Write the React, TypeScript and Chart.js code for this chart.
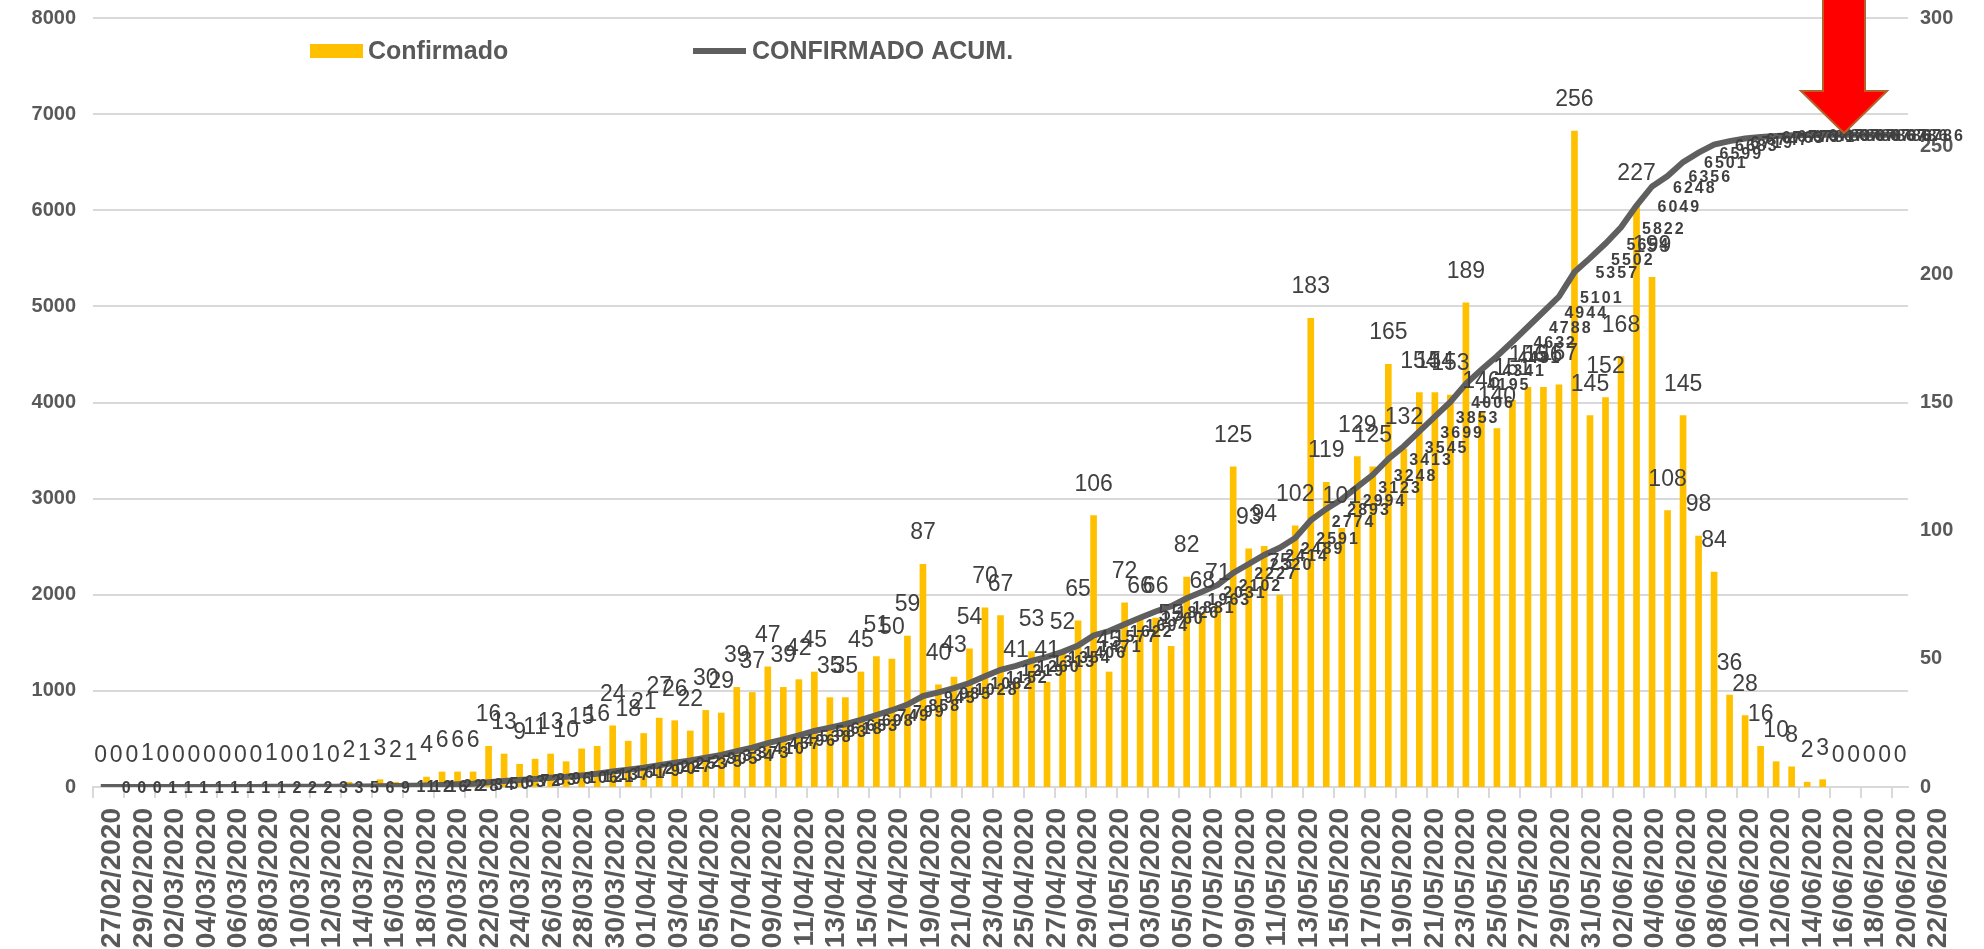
import React, { useEffect, useRef } from 'react';
import { Chart, registerables } from 'chart.js';
Chart.register(...registerables);

const FONT = "'Liberation Sans', Arial, sans-serif";

const dates: string[] = [
  '27/02/2020', '28/02/2020', '29/02/2020',
  '01/03/2020', '02/03/2020', '03/03/2020', '04/03/2020', '05/03/2020', '06/03/2020', '07/03/2020', '08/03/2020', '09/03/2020', '10/03/2020',
  '11/03/2020', '12/03/2020', '13/03/2020', '14/03/2020', '15/03/2020', '16/03/2020', '17/03/2020', '18/03/2020', '19/03/2020', '20/03/2020',
  '21/03/2020', '22/03/2020', '23/03/2020', '24/03/2020', '25/03/2020', '26/03/2020', '27/03/2020', '28/03/2020', '29/03/2020', '30/03/2020', '31/03/2020',
  '01/04/2020', '02/04/2020', '03/04/2020', '04/04/2020', '05/04/2020', '06/04/2020', '07/04/2020', '08/04/2020', '09/04/2020', '10/04/2020',
  '11/04/2020', '12/04/2020', '13/04/2020', '14/04/2020', '15/04/2020', '16/04/2020', '17/04/2020', '18/04/2020', '19/04/2020', '20/04/2020',
  '21/04/2020', '22/04/2020', '23/04/2020', '24/04/2020', '25/04/2020', '26/04/2020', '27/04/2020', '28/04/2020', '29/04/2020', '30/04/2020',
  '01/05/2020', '02/05/2020', '03/05/2020', '04/05/2020', '05/05/2020', '06/05/2020', '07/05/2020', '08/05/2020', '09/05/2020', '10/05/2020',
  '11/05/2020', '12/05/2020', '13/05/2020', '14/05/2020', '15/05/2020', '16/05/2020', '17/05/2020', '18/05/2020', '19/05/2020', '20/05/2020',
  '21/05/2020', '22/05/2020', '23/05/2020', '24/05/2020', '25/05/2020', '26/05/2020', '27/05/2020', '28/05/2020', '29/05/2020', '30/05/2020', '31/05/2020',
  '01/06/2020', '02/06/2020', '03/06/2020', '04/06/2020', '05/06/2020', '06/06/2020', '07/06/2020', '08/06/2020', '09/06/2020', '10/06/2020',
  '11/06/2020', '12/06/2020', '13/06/2020', '14/06/2020', '15/06/2020', '16/06/2020', '17/06/2020', '18/06/2020', '19/06/2020', '20/06/2020',
  '21/06/2020', '22/06/2020',
];

// Daily confirmed (bars, right axis)
const confirmado: number[] = [
  0, 0, 0, 1, 0, 0, 0, 0, 0, 0, 0, 1, 0, 0, 1, 0, 2, 1, 3, 2, 1, 4, 6, 6, 6,
  16, 13, 9, 11, 13, 10, 15, 16, 24, 18, 21, 27, 26, 22, 30, 29, 39, 37, 47, 39, 42, 45, 35, 35, 45, 51, 50, 59, 87, 40, 43, 54, 70, 67,
  41, 53, 41, 52, 65, 106, 45, 72, 66, 66, 55, 82, 68, 71, 125, 93, 94, 75, 102,
  183, 119, 101, 129, 125, 165, 132, 154, 154, 153, 189, 146, 140, 151, 156, 156, 157,
  256, 145, 152, 168, 227, 199, 108, 145, 98, 84, 36, 28, 16, 10, 8, 2, 3, 0, 0, 0, 0, 0,
];

// Cumulative confirmed (line, left axis)
const acumulado: number[] = [
  0, 0, 0, 1, 1, 1, 1, 1, 1, 1, 1, 2, 2, 2, 3, 3, 5, 6, 9, 11, 12, 16, 22, 28, 34,
  50, 63, 72, 83, 96, 106, 121, 137, 161, 179, 200, 227, 253, 275, 305, 334, 373, 410, 457, 496, 538, 583, 618, 653, 698, 749, 799, 858, 945, 985, 1028, 1082, 1152, 1219,
  1260, 1313, 1354, 1406, 1471, 1577, 1622, 1694, 1760, 1826, 1881, 1963, 2031, 2102, 2227, 2320, 2414, 2489, 2591,
  2774, 2893, 2994, 3123, 3248, 3413, 3545, 3699, 3853, 4006, 4195, 4341, 4481, 4632, 4788, 4944, 5101,
  5357, 5502, 5654, 5822, 6049, 6248, 6356, 6501, 6599, 6683, 6719, 6747, 6763, 6773, 6781, 6783, 6786, 6786, 6786, 6786, 6786, 6786,
];

const seriesNames: string[] = ['Confirmado', 'CONFIRMADO ACUM.'];

const valueLabels = {
  id: 'valueLabels',
  afterDatasetsDraw(chart: any) {
    const ctx = chart.ctx;
    ctx.save();
    // daily labels above bars
    const bm = chart.getDatasetMeta(0);
    ctx.font = `23px ${FONT}`;
    ctx.fillStyle = '#404040';
    ctx.textAlign = 'center';
    ctx.textBaseline = 'middle';
    bm.data.forEach((el: any, i: number) => {
      ctx.fillText(String(chart.data.datasets[0].data[i]), el.x, el.y - 31);
    });
    // cumulative labels right of line points
    const lm = chart.getDatasetMeta(1);
    ctx.font = `bold 16px ${FONT}`;
    (ctx as any).letterSpacing = '2px';
    ctx.textAlign = 'left';
    lm.data.forEach((el: any, i: number) => {
      ctx.fillText(String(chart.data.datasets[1].data[i]), el.x + 21, el.y + 2);
    });
    (ctx as any).letterSpacing = '0px';
    ctx.restore();
  },
};

const legendAndArrow = {
  id: 'legendAndArrow',
  afterDraw(chart: any) {
    const ctx = chart.ctx;
    const ds = chart.data.datasets;
    ctx.save();
    ctx.font = `bold 25px ${FONT}`;
    ctx.textBaseline = 'middle';
    ctx.textAlign = 'left';
    // bar legend item
    ctx.fillStyle = ds[0].backgroundColor;
    ctx.fillRect(310, 44, 53, 14);
    ctx.fillStyle = '#595959';
    ctx.fillText(ds[0].label, 368, 52);
    // line legend item
    ctx.strokeStyle = ds[1].borderColor;
    ctx.lineWidth = 6;
    ctx.beginPath();
    ctx.moveTo(693, 51);
    ctx.lineTo(746, 51);
    ctx.stroke();
    ctx.fillText(ds[1].label, 752, 52);
    // red arrow
    ctx.beginPath();
    ctx.moveTo(1823, -2);
    ctx.lineTo(1865, -2);
    ctx.lineTo(1865, 91);
    ctx.lineTo(1887, 91);
    ctx.lineTo(1844, 133);
    ctx.lineTo(1801, 91);
    ctx.lineTo(1823, 91);
    ctx.closePath();
    ctx.fillStyle = '#FF0000';
    ctx.fill();
    ctx.strokeStyle = '#B8602A';
    ctx.lineWidth = 2;
    ctx.stroke();
    ctx.restore();
  },
};

export default function App() {
  const ref = useRef<HTMLCanvasElement>(null);
  useEffect(() => {
    document.body.style.margin = '0';
    const tickFont = { family: FONT, size: 20, weight: 'bold' as const };
    const chart = new Chart(ref.current as HTMLCanvasElement, {
      type: 'bar',
      data: {
        labels: dates,
        datasets: [
          {
            type: 'bar',
            label: seriesNames[0],
            data: confirmado,
            backgroundColor: '#FFC000',
            yAxisID: 'y1',
            xAxisID: 'x',
            barPercentage: 0.43,
            categoryPercentage: 1,
            order: 2,
          } as any,
          {
            type: 'line',
            label: seriesNames[1],
            data: acumulado,
            borderColor: '#5f5f5f',
            backgroundColor: '#5f5f5f',
            borderWidth: 6,
            pointRadius: 0,
            tension: 0,
            yAxisID: 'y',
            xAxisID: 'x',
            order: 1,
          } as any,
        ],
      },
      options: {
        responsive: false,
        animation: false,
        devicePixelRatio: 1,
        layout: { padding: { top: 18, left: 0, right: 0, bottom: 0 } },
        plugins: { legend: { display: false }, tooltip: { enabled: false } },
        scales: {
          x: {
            type: 'category',
            position: 'bottom',
            weight: 0,
            offset: true,
            grid: {
              display: true,
              drawOnChartArea: false,
              drawTicks: true,
              tickLength: 11,
              lineWidth: 2,
              offset: true,
              color: (c: any) => (c.index % 2 === 0 ? '#d9d9d9' : 'rgba(0,0,0,0)'),
            },
            border: { display: true, color: '#d9d9d9', width: 2 },
            ticks: { display: false },
            afterFit: (s: any) => { s.height = 13; },
          } as any,
          xl: {
            type: 'linear',
            position: 'bottom',
            weight: 1,
            bounds: 'data',
            min: -0.25,
            max: 113.07,
            grid: { display: false },
            border: { display: false },
            afterBuildTicks: (s: any) => {
              s.ticks = dates.map((_, i) => i).filter((i) => i % 2 === 0).map((v) => ({ value: v }));
            },
            ticks: {
              autoSkip: false,
              maxRotation: 90,
              minRotation: 90,
              padding: 0,
              color: '#595959',
              font: { family: FONT, size: 28, weight: 'bold' },
              callback: (v: any) => dates[v],
            },
            afterFit: (s: any) => { s.height = 149; },
          } as any,
          y: {
            position: 'left',
            min: 0,
            max: 8000,
            ticks: { stepSize: 1000, padding: 17, color: '#595959', font: tickFont, callback: (v: any) => String(v) },
            grid: { color: '#d9d9d9', lineWidth: 2, drawTicks: false },
            border: { display: false },
            afterFit: (s: any) => { s.width = 93; s.paddingTop = 0; s.paddingBottom = 0; },
          } as any,
          y1: {
            position: 'right',
            min: 0,
            max: 300,
            ticks: { stepSize: 50, padding: 12, color: '#595959', font: tickFont, callback: (v: any) => String(v) },
            grid: { display: false, drawTicks: false },
            border: { display: false },
            afterFit: (s: any) => { s.width = 76; s.paddingTop = 0; s.paddingBottom = 0; },
          } as any,
        },
      },
      plugins: [valueLabels, legendAndArrow],
    });
    return () => chart.destroy();
  }, []);
  return <canvas ref={ref} width={1984} height={949} style={{ display: 'block' }} />;
}
